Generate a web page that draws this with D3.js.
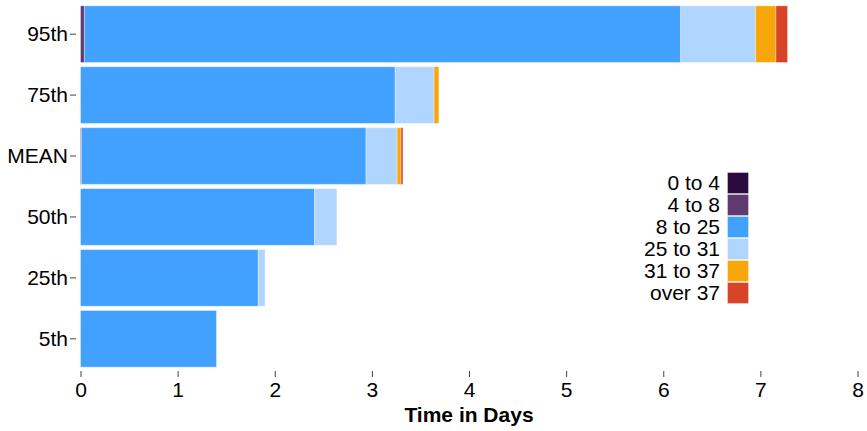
<!DOCTYPE html>
<html><head><meta charset="utf-8">
<script src="https://cdn.jsdelivr.net/npm/d3@7"></script>
<style>body{margin:0;background:#fff}svg{display:block;font-family:"Liberation Sans",Arial,sans-serif}</style>
</head><body><svg id="c" width="867" height="431"></svg>
<script>
const categories = ["95th","75th","MEAN","50th","25th","5th"];
const seriesKeys = ["0 to 4","4 to 8","8 to 25","25 to 31","31 to 37","over 37"];
const v0to4   = [0.00, 0.00, 0.00, 0.00, 0.00, 0.00];
const v4to8   = [0.04, 0.00, 0.01, 0.00, 0.00, 0.00];
const v8to25  = [6.14, 3.24, 2.93, 2.41, 1.83, 1.40];
const v25to31 = [0.77, 0.40, 0.32, 0.23, 0.07, 0.00];
const v31to37 = [0.21, 0.05, 0.04, 0.00, 0.00, 0.00];
const vOver37 = [0.12, 0.00, 0.02, 0.00, 0.00, 0.00];
const colors = ["#2b0a3d","#5f3a6f","#42a0ff","#b0d6ff","#f7a70a","#d84428"];
const xTicks = [0,1,2,3,4,5,6,7,8];

const seriesVals = [v0to4, v4to8, v8to25, v25to31, v31to37, vOver37];
const rows = categories.map((c,i)=>{const o={cat:c}; seriesKeys.forEach((k,j)=>o[k]=seriesVals[j][i]); return o;});

const FONT = "Liberation Sans, Arial, sans-serif";
const svg = d3.select("#c");
const x = d3.scaleLinear().domain([0,8]).range([80.5,857.5]);
const y = d3.scaleBand().domain(categories).range([4,369]).paddingInner(0.07).paddingOuter(0.03);
const color = d3.scaleOrdinal().domain(seriesKeys).range(colors);

const stacked = d3.stack().keys(seriesKeys)(rows);
svg.append("g").selectAll("g").data(stacked).join("g")
  .attr("fill", d=>color(d.key))
  .selectAll("rect").data(d=>d).join("rect")
  .attr("x", d=>x(d[0]))
  .attr("y", d=>y(d.data.cat))
  .attr("width", d=>Math.max(0, x(d[1])-x(d[0])))
  .attr("height", y.bandwidth())
  .attr("stroke", "#fff").attr("stroke-opacity", 0.35).attr("stroke-width", 1);

const xa = svg.append("g").attr("transform","translate(0,371)")
  .call(d3.axisBottom(x).tickValues(xTicks).tickFormat(d3.format("d")).tickSize(6).tickPadding(5).tickSizeOuter(0));
xa.select(".domain").remove();
xa.selectAll("text").style("font-size","21px").style("font-family",FONT).attr("fill","#000");
xa.selectAll("line").attr("stroke","#444");

const ya = svg.append("g").attr("transform","translate(76,0)")
  .call(d3.axisLeft(y).tickSize(6).tickPadding(2).tickSizeOuter(0));
ya.select(".domain").remove();
ya.selectAll("text").style("font-size","21px").style("font-family",FONT).attr("fill","#000");
ya.selectAll("line").attr("stroke","#444");

svg.append("text").attr("x", x(4)).attr("y", 421.5).attr("text-anchor","middle")
  .style("font-size","21px").style("font-family",FONT).attr("font-weight","bold").text("Time in Days");

const lg = svg.append("g").attr("transform","translate(0,172)");
const li = lg.selectAll("g").data(seriesKeys).join("g").attr("transform",(d,i)=>`translate(0,${i*22})`);
li.append("rect").attr("x",727.5).attr("y",0.5).attr("width",21).attr("height",21).attr("fill",d=>color(d))
  .attr("stroke","#fff").attr("stroke-opacity",0.35);
li.append("text").attr("x",720).attr("y",18).attr("text-anchor","end")
  .style("font-size","21px").style("font-family",FONT).text(d=>d);
</script></body></html>
